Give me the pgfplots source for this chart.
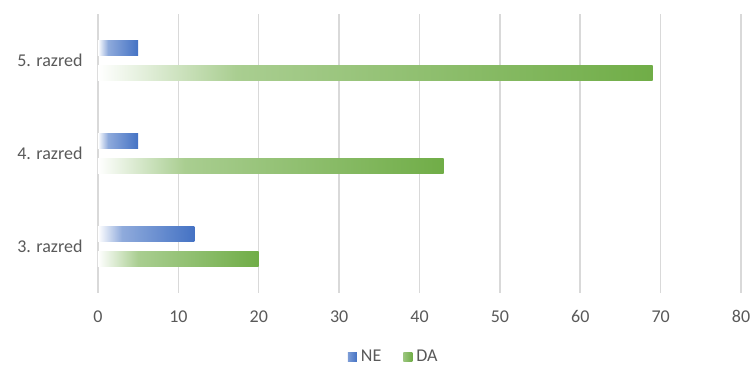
\documentclass[border=0pt]{standalone}
\usepackage{pgfplots}
\pgfplotsset{compat=1.18}
\usepackage{fontspec}
\setmainfont{Carlito}
\definecolor{neblue}{HTML}{4472C4}
\definecolor{dagreen}{HTML}{70AD47}
\definecolor{gridgray}{HTML}{D9D9D9}
\definecolor{labgray}{HTML}{595959}

% left-to-right gradients: white at the start, most of the colour by a quarter
% of the bar, full colour at its end (path box maps to 25bp..75bp)
\pgfdeclarehorizontalshading{neshade}{100bp}{color(0bp)=(white); color(25bp)=(white);
  color(37.5bp)=(neblue!60); color(75bp)=(neblue); color(100bp)=(neblue)}
\pgfdeclarehorizontalshading{dashade}{100bp}{color(0bp)=(white); color(25bp)=(white);
  color(37.5bp)=(dagreen!60); color(75bp)=(dagreen); color(100bp)=(dagreen)}

% each bar is its own plot so that its gradient runs over its own length
\pgfplotsset{
  nebar/.style={forget plot, bar shift=0.132, draw=none, shading=neshade},
  dabar/.style={forget plot, bar shift=-0.132, draw=none, shading=dashade},
}

\begin{document}
\begin{tikzpicture}[font=\fontsize{18}{22}\selectfont]
\path[use as bounding box] (0,0) rectangle (753pt,367pt);
\begin{axis}[
  at={(98pt,74pt)}, anchor=south west,
  scale only axis, width=643pt, height=279pt,
  xmin=0, xmax=80, ymin=-0.5, ymax=2.5,
  xtick={0,10,...,80},
  ytick={0,1,2},
  yticklabels={3. razred,4. razred,5. razred},
  xmajorgrids, grid style={gridgray, line width=1.5pt},
  axis line style={draw=none},
  major tick length=0pt,
  tick label style={text=labgray},
  /pgf/number format/assume math mode=true,
  xticklabel style={yshift=-14pt},
  yticklabel style={xshift=-12pt},
  xbar, bar width=0.156,
  legend style={at={(axis description cs:0.46,-0.229)}, anchor=center,
    draw=none, fill=none, legend columns=2, text=labgray,
    /tikz/every even column/.append style={column sep=20pt},
    /tikz/every odd column/.append style={column sep=0pt}},
  legend image code/.code={\path[#1] (0pt,-4.5pt) rectangle (9pt,4.5pt);
    \path (11pt,0pt);},
]
% NE answers (upper bar of each grade)
\addplot[nebar] coordinates {(12,0)};
\addplot[nebar] coordinates {(5,1)};
\addplot[nebar] coordinates {(5,2)};
% DA answers (lower bar of each grade)
\addplot[dabar] coordinates {(20,0)};
\addplot[dabar] coordinates {(43,1)};
\addplot[dabar] coordinates {(69,2)};
\addlegendimage{draw=none, left color=neblue!70, right color=neblue}
\addlegendentry{NE}
\addlegendimage{draw=none, left color=dagreen!70, right color=dagreen}
\addlegendentry{DA}
\end{axis}
\end{tikzpicture}
\end{document}
